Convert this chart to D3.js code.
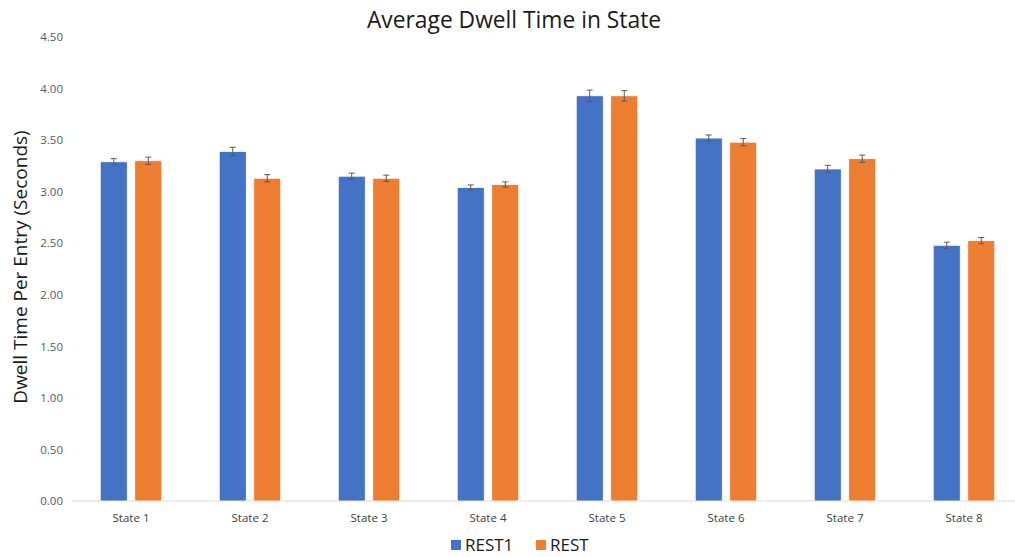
<!DOCTYPE html>
<html><head><meta charset="utf-8">
<script src="https://cdn.jsdelivr.net/npm/d3@7"></script>
<style>body{margin:0;background:#fff}svg{display:block}text{font-family:"Open Sans",sans-serif}</style>
</head><body><svg id="c" width="1015" height="557"></svg>
<script>
const categories = ["State 1","State 2","State 3","State 4","State 5","State 6","State 7","State 8"];
const seriesNames = ["REST1","REST"];
const rest1 = [3.29,3.39,3.15,3.04,3.93,3.52,3.22,2.48];
const rest  = [3.30,3.13,3.13,3.07,3.93,3.48,3.32,2.525];
const rest1Err = [0.03,0.04,0.03,0.025,0.055,0.03,0.035,0.03];
const restErr  = [0.035,0.035,0.03,0.025,0.05,0.035,0.035,0.03];
const yTicks = [0,0.5,1,1.5,2,2.5,3,3.5,4,4.5];
const colors = ["#4472C4","#ED7D31"];

const svg = d3.select("#c");
const x = d3.scaleBand().domain(categories).range([71.5,1023.5]).paddingInner(0).paddingOuter(0);
const y = d3.scaleLinear().domain([0,4.5]).range([501,37]);
const x1 = d3.scaleBand().domain(seriesNames).range([0,x.bandwidth()]).paddingInner(0.217).paddingOuter(0.833);

// baseline
svg.append("line").attr("x1",71.5).attr("x2",1015).attr("y1",y(0)).attr("y2",y(0)).attr("stroke","#d9d9d9").attr("stroke-width",1);

// y axis labels
const ya = svg.append("g").attr("transform","translate(63,0)")
  .call(d3.axisLeft(y).tickValues(yTicks).tickFormat(d3.format(".2f")).tickSize(0).tickPadding(0));
ya.select(".domain").remove();
ya.selectAll("text").attr("font-family","Open Sans").attr("font-size",11.5).attr("fill","#595959");

// x axis labels
const xa = svg.append("g").attr("transform",`translate(0,${y(0)})`)
  .call(d3.axisBottom(x).tickSize(0).tickPadding(13));
xa.select(".domain").remove();
xa.selectAll("text").attr("font-family","Open Sans").attr("font-size",11.5).attr("fill","#404040");

const data = [rest1, rest];
const errs = [rest1Err, restErr];
seriesNames.forEach((s,si)=>{
  const g = svg.append("g");
  g.selectAll("rect").data(categories).join("rect")
    .attr("x",c=>x(c)+x1(s)).attr("width",x1.bandwidth())
    .attr("y",(c,i)=>y(data[si][i])).attr("height",(c,i)=>y(0)-y(data[si][i]))
    .attr("fill",colors[si]).attr("stroke","#fff").attr("stroke-width",0.8);
  const eg = svg.append("g").attr("stroke","#595959").attr("stroke-width",1);
  categories.forEach((c,i)=>{
    const cx = x(c)+x1(s)+x1.bandwidth()/2;
    const v = data[si][i], e = errs[si][i];
    eg.append("line").attr("x1",cx).attr("x2",cx).attr("y1",y(v+e)).attr("y2",y(v-e));
    eg.append("line").attr("x1",cx-3).attr("x2",cx+3).attr("y1",y(v+e)).attr("y2",y(v+e));
    eg.append("line").attr("x1",cx-3).attr("x2",cx+3).attr("y1",y(v-e)).attr("y2",y(v-e));
  });
});

// title
svg.append("text").attr("x",514).attr("y",28).attr("text-anchor","middle").attr("font-size",22.8).attr("fill","#1a1a1a").text("Average Dwell Time in State");
// y label
svg.append("text").attr("transform","translate(27,267) rotate(-90)").attr("text-anchor","middle").attr("font-size",19).attr("fill","#1a1a1a").text("Dwell Time Per Entry (Seconds)");
// legend
const lg = svg.append("g");
const legX = [451,536];
seriesNames.forEach((s,i)=>{
  lg.append("rect").attr("x",legX[i]).attr("y",540).attr("width",10).attr("height",10).attr("fill",colors[i]);
  lg.append("text").attr("x",legX[i]+14).attr("y",551).attr("font-size",17).attr("fill","#1a1a1a").text(s);
});
</script></body></html>
